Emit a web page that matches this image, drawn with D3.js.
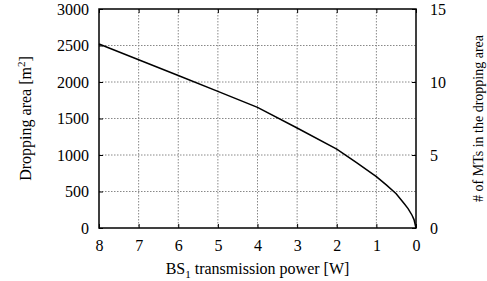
<!DOCTYPE html>
<html>
<head>
<meta charset="utf-8">
<script src="https://cdn.jsdelivr.net/npm/d3@7"></script>
<style>
  body { margin: 0; background: #fff; }
  text { font-family: "Liberation Serif", "Times New Roman", Times, serif; font-size: 16px; fill: #000; }
</style>
</head>
<body>
<div id="chart"></div>
<script>
// power values [W] and dropping area [m^2]
var power = [8, 7, 6, 5, 4, 3, 2, 1.5, 1, 0.75, 0.5, 0.3, 0.2, 0.1, 0.05, 0];
var area = [2520, 2305, 2090, 1872, 1653, 1370, 1080, 895, 703, 590, 470, 335, 265, 175, 115, 0];

var xTicks = [8, 7, 6, 5, 4, 3, 2, 1, 0];
var yTicks = [0, 500, 1000, 1500, 2000, 2500, 3000];
var y2Ticks = [0, 5, 10, 15];

var width = 487, height = 281;
var plotL = 99, plotR = 416, plotT = 9, plotB = 228;
var serif = "'Liberation Serif', 'Times New Roman', Times, serif";

var svg = d3.select("#chart").append("svg")
  .attr("width", width)
  .attr("height", height);

var x = d3.scaleLinear().domain([8, 0]).range([plotL, plotR]);
var y = d3.scaleLinear().domain([0, 3000]).range([plotB, plotT]);
var y2 = d3.scaleLinear().domain([0, 15]).range([plotB, plotT]);

// grid
svg.append("g").selectAll("line")
  .data(xTicks.filter(d => d != 8 && d != 0))
  .enter().append("line")
  .attr("x1", d => x(d)).attr("x2", d => x(d))
  .attr("y1", plotT).attr("y2", plotB)
  .attr("stroke", "#888").attr("stroke-width", 1)
  .attr("stroke-dasharray", "1.5,1.5");

svg.append("g").selectAll("line")
  .data(yTicks.filter(d => d != 0 && d != 3000))
  .enter().append("line")
  .attr("x1", plotL).attr("x2", plotR)
  .attr("y1", d => y(d)).attr("y2", d => y(d))
  .attr("stroke", "#888").attr("stroke-width", 1)
  .attr("stroke-dasharray", "1.5,1.5");

// axes
var xAxis = d3.axisBottom(x).tickValues(xTicks).tickSizeInner(-4).tickSizeOuter(0).tickPadding(12);
var xTop = d3.axisTop(x).tickValues(xTicks).tickSizeInner(-4).tickSizeOuter(0).tickFormat("");
var yAxis = d3.axisLeft(y).tickValues(yTicks).tickSizeInner(-4).tickSizeOuter(0).tickPadding(10).tickFormat(d3.format("d"));
var yRight = d3.axisRight(y2).tickValues(y2Ticks).tickSizeInner(-4).tickSizeOuter(0).tickPadding(14);

svg.append("g").attr("transform", "translate(0," + plotB + ")").call(xAxis);
svg.append("g").attr("transform", "translate(0," + plotT + ")").call(xTop);
svg.append("g").attr("transform", "translate(" + plotL + ",0)").call(yAxis);
svg.append("g").attr("transform", "translate(" + plotR + ",0)").call(yRight);

svg.selectAll(".domain").attr("stroke", "none");
svg.selectAll(".tick line").attr("stroke", "#000");
svg.selectAll("g").attr("font-family", null).attr("font-size", null);
svg.selectAll("text").style("font-family", serif);

// frame
svg.append("rect")
  .attr("x", plotL).attr("y", plotT)
  .attr("width", plotR - plotL).attr("height", plotB - plotT)
  .attr("fill", "none").attr("stroke", "#000").attr("stroke-width", 1.5);

// curve
var line = d3.line().x((d, i) => x(power[i])).y(d => y(d));
svg.append("path")
  .datum(area)
  .attr("d", line)
  .attr("fill", "none")
  .attr("stroke", "#000")
  .attr("stroke-width", 1.5);

// labels
var xl = svg.append("text")
  .attr("x", (plotL + plotR) / 2).attr("y", 274)
  .attr("text-anchor", "middle");
xl.append("tspan").text("BS");
xl.append("tspan").attr("dy", 4).style("font-size", "11px").text("1");
xl.append("tspan").attr("dy", -4).text(" transmission power [W]");

var yl = svg.append("text")
  .attr("transform", "translate(31," + ((plotT + plotB) / 2) + ") rotate(-90)")
  .attr("text-anchor", "middle");
yl.append("tspan").text("Dropping area  [m");
yl.append("tspan").attr("dy", -6).style("font-size", "11px").text("2");
yl.append("tspan").attr("dy", 6).text("]");

svg.append("text")
  .attr("transform", "translate(483," + ((plotT + plotB) / 2) + ") rotate(-90)")
  .attr("text-anchor", "middle")
  .style("font-size", "14px")
  .text("# of MTs in the dropping area");
</script>
</body>
</html>
